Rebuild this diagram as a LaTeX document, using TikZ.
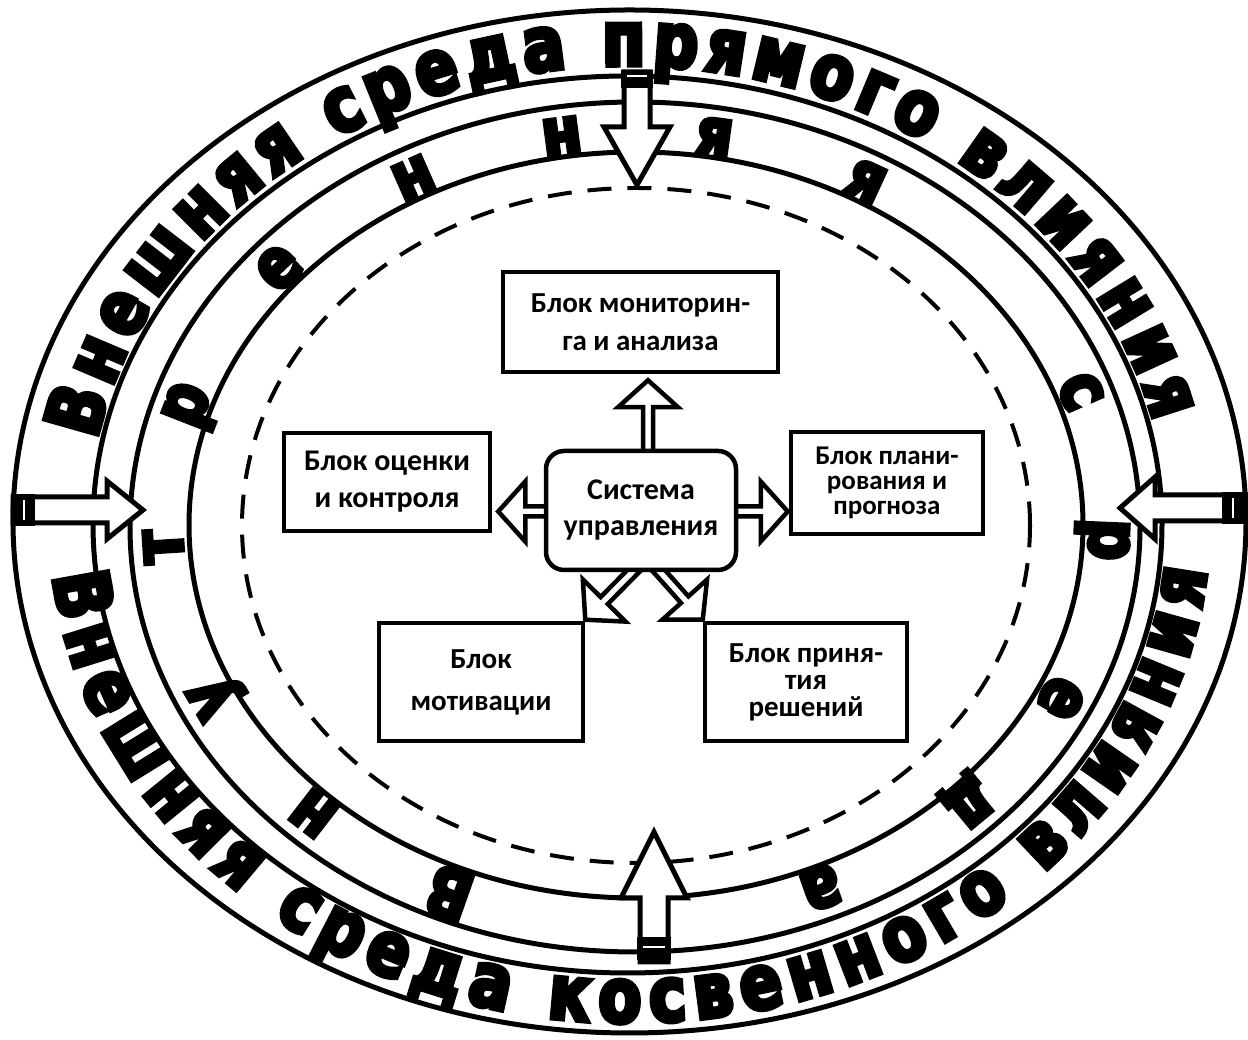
\documentclass[tikz,border=0pt]{standalone}
\usepackage{fontspec}
\usetikzlibrary{calc,decorations.text}
\newfontfamily\ringfont{DejaVu Sans Bold}[FakeBold=6, FakeStretch=0.82]
\newfontfamily\boxfont{Carlito}
\pgfdeclarelayer{back}
\pgfdeclarelayer{mid}
\pgfsetlayers{back,mid,main}

% hollow block arrow: start, tip, style, shaft half-width, head half-width, head length
\newcommand\hollowarrow[6]{%
  \coordinate (ha-base) at ($(#2)!#6!(#1)$);
  \filldraw[#3] ($(#1)!#4!90:(#2)$) -- ($(ha-base)!#4!90:(#2)$) -- ($(ha-base)!#5!90:(#2)$)
    -- (#2) -- ($(ha-base)!#5!-90:(#2)$) -- ($(ha-base)!#4!-90:(#2)$) -- ($(#1)!#4!-90:(#2)$) -- cycle;
}

\tikzset{
  ringline/.style={line width=5pt},
  dashring/.style={line width=4pt, dash pattern=on 24pt off 16pt},
  outerarrow/.style={draw=black, fill=white, line width=5pt, line join=miter},
  innerarrow/.style={draw=black, fill=white, line width=4.5pt, line join=miter},
  blockbox/.style={draw, line width=4.5pt, fill=white, inner sep=0pt, align=center},
  innerletter/.style={inner sep=0pt, font=\ringfont\fontsize{70}{70}\selectfont, text height=38pt, text depth=0pt},
}

\begin{document}
\begin{tikzpicture}[x=1pt,y=1pt]
\useasboundingbox (0,0) rectangle (1248,1040);
\coordinate (c1) at (629.5,518.5);
\coordinate (c2) at (627.5,515.5);
\coordinate (c3) at (635,513);
\coordinate (c4) at (636,515);
\coordinate (c5) at (636,514.5);
\coordinate (ci) at (636,514);

% ---- blocks ----
\node[blockbox, minimum width=275, minimum height=100, font=\boxfont\bfseries\fontsize{29}{38}\selectfont] (mon) at (640.5,718) {Блок мониторин-\\га и анализа};
\node[blockbox, minimum width=206, minimum height=98, font=\boxfont\bfseries\fontsize{30}{37}\selectfont] (ots) at (387,558) {Блок оценки\\и контроля};
\node[blockbox, rounded corners=18pt, minimum width=190, minimum height=119, font=\boxfont\bfseries\fontsize{30}{36}\selectfont] (sys) at (641,529.5) {Система\\управления};
\node[blockbox, minimum width=192, minimum height=102, font=\boxfont\bfseries\fontsize{27}{25}\selectfont] (plan) at (887,557) {Блок плани-\\рования и\\прогноза};
\node[blockbox, minimum width=204, minimum height=118, font=\boxfont\bfseries\fontsize{29}{42}\selectfont] (mot) at (481,358) {Блок\\мотивации};
\node[blockbox, minimum width=202, minimum height=118, font=\boxfont\bfseries\fontsize{29}{27}\selectfont] (pri) at (806,358) {Блок приня-\\тия\\решений};

\begin{pgfonlayer}{back}
\fill[white] (0,0) rectangle (1248,1040);
\draw[ringline] (c1) ellipse [x radius=616.5, y radius=511.5];
\draw[ringline] (c2) ellipse [x radius=534.5, y radius=448.5];
\draw[ringline] (c3) ellipse [x radius=505, y radius=425];
\draw[ringline] (c4) ellipse [x radius=447, y radius=373];
\draw[dashring] (c5) ellipse [x radius=394, y radius=337.5];

% outer ring captions
\path[decorate, decoration={text along path, text align={fit to path},
    text={|\ringfont\fontsize{76}{76}\selectfont|Внешняя среда прямого влияния}}]
  ($(c2)+({540*cos(169.4)},{459*sin(169.4)})$) arc[start angle=169.4, end angle=12.9, x radius=540, y radius=459];
\path[decorate, decoration={text along path, text align={fit to path},
    text={|\ringfont\fontsize{76}{76}\selectfont|Внешняя среда косвенного влияния}}]
  ($(c1)+({580*cos(186.2)},{501*sin(186.2)})$) arc[start angle=186.2, end angle=354.4, x radius=580, y radius=501];

% inner ring caption, letter by letter
\foreach \t/\ch [count=\i] in {247/В,227/н,206/у,183/т,162/р,139/е,118/н,99/н,80.5/я,61/я,20/с,358/р,334/е,315/д,293/а}{
  \pgfmathsetmacro\rot{atan2(473*sin(\t),393*cos(\t))-90}
  \node[innerletter, rotate=\rot] (il\i) at ($(ci)+({473*cos(\t)},{393*sin(\t)})$) {\ch};
}
\end{pgfonlayer}

\begin{pgfonlayer}{mid}
% influences from the environment
\coordinate (ta-s) at (637,968);  \coordinate (ta-t) at (637,855);
\coordinate (la-s) at (13,530);   \coordinate (la-t) at (143,530);
\coordinate (ra-s) at (1246,532); \coordinate (ra-t) at (1120,532);
\coordinate (ba-s) at (654,78);   \coordinate (ba-t) at (654,208);
\hollowarrow{ta-s}{ta-t}{outerarrow}{13pt}{33pt}{58pt}
\hollowarrow{la-s}{la-t}{outerarrow}{13pt}{29pt}{36pt}
\hollowarrow{ra-s}{ra-t}{outerarrow}{13pt}{31pt}{35pt}
\hollowarrow{ba-s}{ba-t}{outerarrow}{14pt}{33pt}{66pt}
\fill (621,952) rectangle (653,970);  \draw[white, line width=2.5pt] (627,964) -- (647,964);
\fill (11,514) rectangle (35,546);    \draw[white, line width=2.5pt] (24,520) -- (24,540);
\fill (1222,516) rectangle (1247,548); \draw[white, line width=2.5pt] (1233,522) -- (1233,542);
\fill (637,80) rectangle (671,103);   \draw[white, line width=2.5pt] (643,93) -- (665,93);

% links from the control system
\coordinate (u-s) at ($(sys.north)+(7,-8)$);   \coordinate (u-t) at ($(mon.south)+(7.5,-6)$);
\coordinate (l-s) at ($(sys.west)+(8,-1)$);    \coordinate (l-t) at ($(ots.east |- sys.west)+(6,-1)$);
\coordinate (r-s) at ($(sys.east)+(-8,-1)$);   \coordinate (r-t) at ($(plan.west |- sys.east)+(-1,-1)$);
\coordinate (dl-s) at ($(sys.south)+(-1,8)$);  \coordinate (dl-t) at ($(mot.north east)+(0,1)$);
\coordinate (dr-s) at ($(sys.south)+(12,8)$);  \coordinate (dr-t) at ($(pri.north west)+(0,1)$);
\hollowarrow{u-s}{u-t}{innerarrow}{5pt}{30pt}{27pt}
\hollowarrow{l-s}{l-t}{innerarrow}{5pt}{30pt}{27pt}
\hollowarrow{r-s}{r-t}{innerarrow}{5pt}{30pt}{27pt}
\hollowarrow{dl-s}{dl-t}{innerarrow}{5pt}{30pt}{27pt}
\hollowarrow{dr-s}{dr-t}{innerarrow}{5pt}{30pt}{27pt}
\end{pgfonlayer}
\end{tikzpicture}
\end{document}
